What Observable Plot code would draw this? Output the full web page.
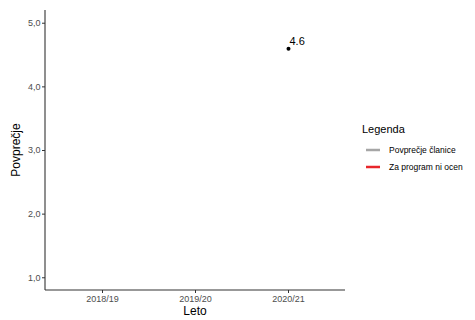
<!DOCTYPE html>
<html><head><meta charset="utf-8">
<script src="https://cdn.jsdelivr.net/npm/d3@7"></script>
<script src="https://cdn.jsdelivr.net/npm/@observablehq/plot@0.6"></script>
<style>
body{margin:0;background:#fff;font-family:"Liberation Sans",Arial,sans-serif;}
#c{position:relative;width:475px;height:320px;overflow:hidden;}
</style></head><body><div id="c"></div>
<script>
const years = ["2018/19","2019/20","2020/21"];
const averages = [null, null, 4.6];
const yTicks = [1,2,3,4,5];
const legendTitle = "Legenda";
const legendLabels = ["Povprečje članice","Za program ni ocen"];
const legendColors = ["#a6a6a6","#e8262b"];

const data = years.map((y,i)=>({leto:y, v:averages[i]})).filter(d=>d.v!=null);
const fmt = d => d.toFixed(1).replace(".", ",");

const plot = Plot.plot({
  width:475, height:320,
  marginLeft:45, marginRight:130, marginTop:10, marginBottom:30,
  style:{fontFamily:'"Liberation Sans",Arial,sans-serif', fontSize:"9px", color:"#4d4d4d", background:"#fff"},
  x:{type:"point", domain:years, padding:0.6, label:null},
  y:{domain:[0.8,5.2], ticks:yTicks, label:null},
  marks:[
    Plot.axisX({tickSize:3, tickPadding:2, fontSize:9, fill:"#4d4d4d", stroke:"#333"}),
    Plot.axisY({ticks:yTicks, tickFormat:fmt, tickSize:3, tickPadding:2, fontSize:9, fill:"#4d4d4d", stroke:"#333"}),
    Plot.dot(data,{x:"leto", y:"v", r:2, fill:"black", stroke:"none"}),
    Plot.text(data,{x:"leto", y:"v", text:d=>String(d.v), dx:1, dy:-7, textAnchor:"start", fontSize:11, fill:"black"})
  ]
});
document.getElementById("c").appendChild(plot);

const svg = d3.select(plot);
// axis lines
svg.append("line").attr("x1",45).attr("x2",45).attr("y1",10).attr("y2",290).attr("stroke","#333").attr("stroke-width",1.1);
svg.append("line").attr("x1",45).attr("x2",345).attr("y1",290).attr("y2",290).attr("stroke","#333").attr("stroke-width",1.1);
// axis titles
svg.append("text").attr("x",195).attr("y",315).attr("text-anchor","middle").attr("font-size",12).attr("fill","black").text("Leto");
svg.append("text").attr("transform","translate(20,150) rotate(-90)").attr("text-anchor","middle").attr("font-size",12).attr("fill","black").text("Povprečje");
// legend
const lg = svg.append("g").attr("text-anchor","start");
lg.append("text").attr("x",362).attr("y",133).attr("text-anchor","start").attr("font-size",11).attr("fill","black").text(legendTitle);
legendLabels.forEach((lab,i)=>{
  const y = 150 + i*17;
  lg.append("line").attr("x1",366).attr("x2",380).attr("y1",y).attr("y2",y).attr("stroke",legendColors[i]).attr("stroke-width",2.5);
  lg.append("text").attr("x",389).attr("y",y+3).attr("text-anchor","start").attr("font-size",8.5).attr("fill","black").text(lab);
});
</script></body></html>
